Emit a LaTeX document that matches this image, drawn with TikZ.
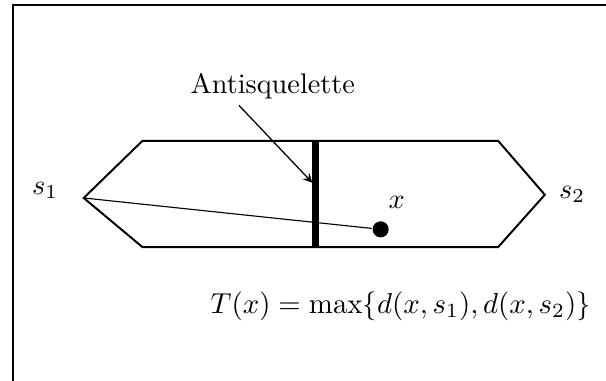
\documentclass[tikz,border=0pt]{standalone}
\usetikzlibrary{arrows}
\begin{document}
\begin{tikzpicture}[x=1cm,y=1cm,>=stealth,line width=.7pt]
  \useasboundingbox (0,0) rectangle (7.53,4.73);
  \draw (.16,0)--(.16,4.67)--(7.53,4.67);
  \coordinate (s1pt) at (1.04,2.27);
  \coordinate (tl) at (1.77,2.98);
  \coordinate (tr) at (6.19,2.98);
  \coordinate (s2pt) at (6.77,2.31);
  \coordinate (br) at (6.19,1.66);
  \coordinate (bl) at (1.77,1.66);
  \draw (s1pt)--(tl)--(tr)--(s2pt)--(br)--(bl)--cycle;
  \draw[line width=2.5pt] (3.92,2.98)--(3.92,1.66);
  \node[circle,fill,inner sep=0pt,minimum size=.2cm] (x) at (4.73,1.88) {};
  \draw[line width=.4pt] (s1pt)--(x);
  \node (xlab) at (4.93,2.21) {$x$};
  \node (s1) at (.56,2.36) {$s_1$};
  \node (s2) at (7.11,2.31) {$s_2$};
  \node (anti) at (3.39,3.66) {Antisquelette};
  \coordinate (astart) at (2.97,3.42);
  \coordinate (aend) at (3.88,2.46);
  \draw[->,line width=.45pt] (astart)--(aend);
  \node[scale=1.02] (formula) at (4.98,.93) {$T(x)=\max\{d(x,s_1),d(x,s_2)\}$};
\end{tikzpicture}
\end{document}
